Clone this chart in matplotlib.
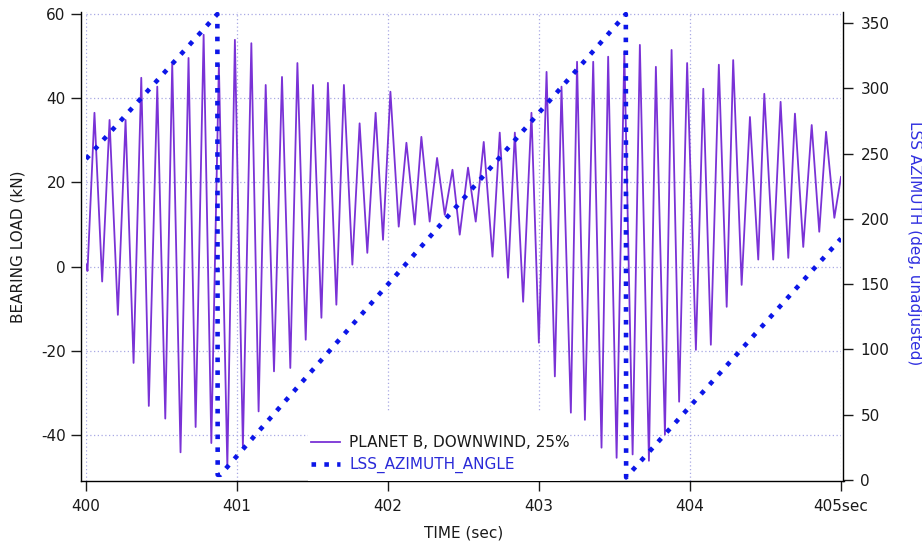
import matplotlib
matplotlib.use("Agg")
import matplotlib.pyplot as plt
from matplotlib.patches import Rectangle

# ---- data ----
time_s = [400.003, 400.010, 400.056, 400.107, 400.156, 400.211, 400.262, 400.315,
          400.366, 400.416, 400.472, 400.525, 400.571, 400.626, 400.679, 400.726,
          400.779, 400.830, 400.880, 400.936, 400.986, 401.039, 401.095, 401.143,
          401.190, 401.245, 401.298, 401.353, 401.400, 401.455, 401.503, 401.559,
          401.602, 401.658, 401.708, 401.764, 401.812, 401.863, 401.918, 401.967,
          402.016, 402.071, 402.122, 402.177, 402.221, 402.276, 402.325, 402.376,
          402.427, 402.475, 402.530, 402.581, 402.634, 402.692, 402.740, 402.795,
          402.840, 402.895, 402.950, 402.999, 403.050, 403.105, 403.149, 403.211,
          403.252, 403.304, 403.359, 403.414, 403.458, 403.514, 403.565, 403.620,
          403.668, 403.728, 403.774, 403.834, 403.878, 403.928, 403.981, 404.039,
          404.088, 404.138, 404.191, 404.243, 404.286, 404.342, 404.397, 404.452,
          404.492, 404.551, 404.600, 404.651, 404.695, 404.750, 404.806, 404.856,
          404.901, 404.956, 405.000]
load_kn = [0.5, -1.0, 36.5, -3.5, 34.8, -11.4, 34.8, -22.8,
           44.8, -33.0, 42.7, -36.0, 48.3, -44.0, 49.5, -38.0,
           55.0, -41.8, 47.9, -47.5, 53.8, -42.6, 53.0, -34.3,
           43.1, -24.8, 45.0, -24.0, 48.3, -17.3, 43.1, -12.1,
           43.6, -9.0, 43.1, 0.5, 34.0, 3.3, 36.5, 6.4,
           41.5, 9.5, 29.4, 10.0, 30.8, 10.7, 25.8, 12.3,
           23.0, 7.6, 23.5, 10.7, 29.6, 2.4, 31.8, -2.6,
           31.8, -8.3, 36.5, -18.0, 46.2, -26.0, 42.7, -34.6,
           48.6, -36.3, 48.6, -42.9, 49.8, -45.3, 51.0, -44.5,
           52.6, -46.0, 47.4, -39.8, 51.4, -32.0, 48.3, -19.7,
           42.2, -18.5, 47.9, -9.5, 49.0, -4.3, 35.5, 1.7,
           41.0, 1.7, 39.1, 2.1, 36.3, 4.7, 33.6, 8.3,
           32.0, 11.6, 21.3]

az_time = [400.0, 400.870, 400.872, 400.890, 403.575, 403.577, 405.0]
az_deg = [246, 357, 4, 4, 357, 2, 185]

x_ticks = [400, 401, 402, 403, 404, 405]
x_tick_labels = ["400", "401", "402", "403", "404", "405sec"]
left_ticks = [-40, -20, 0, 20, 40, 60]
right_ticks = [0, 50, 100, 150, 200, 250, 300, 350]

series_labels = ["PLANET B, DOWNWIND, 25%", "LSS_AZIMUTH_ANGLE"]

# ---- styling ----
plt.rcParams["font.family"] = ["DejaVu Sans"]
plt.rcParams["axes.unicode_minus"] = False
W, H = 922, 546
fig = plt.figure(figsize=(W / 100, H / 100), dpi=100)
ax_l, ax_r, ax_t, ax_b = 86, 841, 12, 481
ax = fig.add_axes([ax_l / W, 1 - ax_b / H, (ax_r - ax_l) / W, (ax_b - ax_t) / H])

purple = "#7a32d6"
blue = "#0c16e8"

l1, = ax.plot(time_s, load_kn, color=purple, lw=1.3, zorder=3)
ax.set_xlim(400, 405)
ax.set_ylim(-50.8, 60.4)
ax.set_xticks(x_ticks)
ax.set_xticklabels(x_tick_labels)
ax.set_yticks(left_ticks)
ax.set_axisbelow(True)
ax.grid(True, color="#a9a9e4", linestyle=(0, (1, 2)), lw=0.9)

ax2 = ax.twinx()
l2, = ax2.plot(az_time, az_deg, color=blue, lw=3.3, dashes=(1, 1.8),
               dash_capstyle="butt", zorder=4)
ax2.set_ylim(-0.77, 358.6)
ax2.set_yticks(right_ticks)

# spines
for a in (ax, ax2):
    a.spines["top"].set_visible(False)
ax.spines["right"].set_visible(False)
ax2.spines["left"].set_visible(False)
ax2.spines["bottom"].set_visible(False)
ax.spines["left"].set_position(("outward", 3.6))
ax2.spines["right"].set_position(("outward", 1.5))
ax.spines["bottom"].set_bounds(400 - 5.5 / 151, 405 + 2.5 / 151)
for s in ("left", "bottom"):
    ax.spines[s].set_linewidth(1.0)
ax2.spines["right"].set_linewidth(1.0)

ax.tick_params(axis="x", direction="out", length=7, width=1, labelsize=11, pad=6, colors="#1a1a1a")
ax.tick_params(axis="y", direction="out", length=7, width=1, labelsize=11, pad=4, colors="#1a1a1a")
ax2.tick_params(axis="y", direction="out", length=7, width=1, labelsize=11, pad=5.5, colors="#1a1a1a")

# axis labels
ax.set_xlabel("TIME (sec)", fontsize=11, color="#1a1a1a")
ax.xaxis.set_label_coords(0.5, -0.111)
ax.xaxis.label.set_va("center")

ax.set_ylabel("BEARING LOAD (kN)", fontsize=11, color="#1a1a1a")
ax.yaxis.label.set_rotation_mode("default")
ax.yaxis.label.set_va("center")
ax.yaxis.label.set_ha("center")
ax.yaxis.set_label_coords((18.5 - ax_l) / (ax_r - ax_l), 0.5)

ax2.set_ylabel("LSS AZIMUTH (deg, unadjusted)", fontsize=11, color="#3030e0", rotation=270)
ax2.yaxis.label.set_rotation_mode("default")
ax2.yaxis.label.set_va("center")
ax2.yaxis.label.set_ha("center")
ax2.yaxis.set_label_coords((914 - ax_l) / (ax_r - ax_l), (ax_b - 243) / (ax_b - ax_t))

# white block behind legend (covers grid)
rx0, rx1, ry0 = 308, 570, 412
ax2.add_patch(Rectangle(((rx0 - ax_l) / (ax_r - ax_l), 0.0),
                        (rx1 - rx0) / (ax_r - ax_l), (ax_b - ry0) / (ax_b - ax_t),
                        transform=ax2.transAxes, facecolor="white", edgecolor="none", zorder=1))

leg = ax2.legend([l1, l2], series_labels, loc="upper left",
                 bbox_to_anchor=(311 / W, 1 - 435 / H), bbox_transform=fig.transFigure,
                 frameon=False, fontsize=11, handlelength=1.9, handletextpad=0.6,
                 labelspacing=0.45, borderpad=0, borderaxespad=0)
leg.set_zorder(10)
txts = leg.get_texts()
txts[0].set_color("#1a1a1a")
txts[1].set_color("#2a2ad8")

fig.savefig("out.png", dpi=100)
